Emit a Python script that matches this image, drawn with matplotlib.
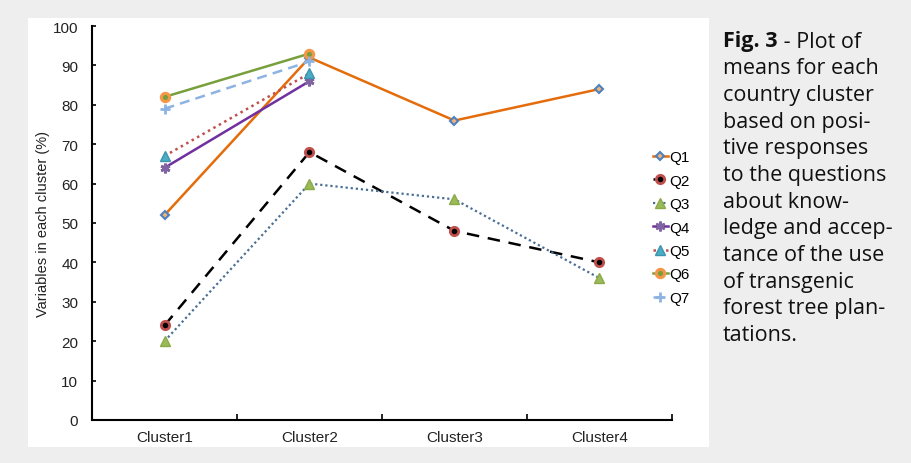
import numpy as np
import matplotlib
matplotlib.use("Agg")
from matplotlib import pyplot as plt
from matplotlib.patches import Rectangle

# data
clusters = ["Cluster1", "Cluster2", "Cluster3", "Cluster4"]
q1 = [52, 92, 76, 84]
q2 = [24, 68, 48, 40]
q3 = [20, 60, 56, 36]
q4 = [64, 86]
q5 = [67, 88]
q6 = [82, 93]
q7 = [79, 91]

caption_lines = [
    "means for each",
    "country cluster",
    "based on posi-",
    "tive responses",
    "to the questions",
    "about know-",
    "ledge and accep-",
    "tance of the use",
    "of transgenic",
    "forest tree plan-",
    "tations.",
]

plt.rcParams["font.family"] = ["Liberation Sans", "DejaVu Sans"]

fig = plt.figure(figsize=(9.12, 4.64), dpi=100)
fig.patch.set_facecolor("#eeeeee")
fig.patches.append(Rectangle((0.0307, 0.0345), 0.7467, 0.9245, transform=fig.transFigure,
                             facecolor="white", edgecolor="none", zorder=-5))

ax = fig.add_axes([0.1009, 0.0927, 0.6359, 0.8491])
ax.set_facecolor("none")
ax.set_zorder(2)

series = [
    ("Q1", q1, dict(color="#e46c0a", ls="-", lw=1.8, marker="D", ms=4.5,
                    mfc="#f2b27a", mec="#4f81bd", mew=1.5)),
    ("Q2", q2, dict(color="black", ls=(0, (5, 3.5)), lw=1.8, marker="o", ms=6,
                    mfc="black", mec="#c0504d", mew=2.0)),
    ("Q3", q3, dict(color="#4a6f94", ls=(0, (1, 1.3)), lw=1.6, marker="^", ms=6.5,
                    mfc="#9bbb59", mec="#8aaa4a", mew=1.0)),
    ("Q4", q4, dict(color="#7030a0", ls="-", lw=1.8, marker=(6, 2, 0), ms=7,
                    mfc="#8064a2", mec="#8064a2", mew=2.0)),
    ("Q5", q5, dict(color="#c0504d", ls=(0, (1, 1.5)), lw=1.8, marker="^", ms=6.5,
                    mfc="#4bacc6", mec="#3d94ae", mew=1.0)),
    ("Q6", q6, dict(color="#77a03d", ls="-", lw=1.8, marker="o", ms=6,
                    mfc="#77a03d", mec="#f79646", mew=2.2)),
    ("Q7", q7, dict(color="#8db3e2", ls=(0, (4, 2.5)), lw=1.8, marker="+", ms=7,
                    mfc="#8db3e2", mec="#8db3e2", mew=2.0)),
]

x = np.arange(len(clusters))
for name, vals, kw in series:
    ax.plot(x[:len(vals)], vals, label=name, **kw)

ax.set_xlim(-0.5, 3.5)
ax.set_ylim(0, 100)
ax.set_yticks(np.arange(0, 101, 10))
ax.set_xticks(x)
ax.set_xticklabels(clusters, fontsize=11)
ax.set_xticks(np.arange(-0.5, 3.6, 1), minor=True)
ax.tick_params(axis="x", which="major", length=0, pad=7, colors="#222222")
ax.tick_params(axis="x", which="minor", direction="in", length=4, width=1.2)
ax.tick_params(axis="y", direction="in", length=3, width=1.2, labelsize=11, pad=10,
               labelcolor="#222222")
for s in ["top", "right"]:
    ax.spines[s].set_visible(False)
for s in ["left", "bottom"]:
    ax.spines[s].set_linewidth(1.5)
ax.set_ylabel("Variables in each cluster (%)", fontsize=10.5, labelpad=2, color="#222222")

leg = ax.legend(loc="upper left", bbox_to_anchor=(0.967, 0.685), frameon=False,
                fontsize=11, handlelength=1.0, handletextpad=0.05,
                labelspacing=0.62, borderaxespad=0, borderpad=0)

# caption on the right
cap_font = ["Open Sans", "DejaVu Sans"]
cap_size = 15.5
cx = 723 / 912
top_y = 1 - 42 / 464
step = 26.7 / 464
t = fig.text(cx, top_y, "Fig. 3", fontsize=cap_size, fontweight="bold", family=cap_font,
             color="#111111", va="center", ha="left")
fig.canvas.draw()
bb = t.get_window_extent(renderer=fig.canvas.get_renderer())
fig.text(bb.x1 / fig.bbox.width, top_y, " - Plot of", fontsize=cap_size, family=cap_font,
         color="#111111", va="center", ha="left")
for i, line in enumerate(caption_lines):
    fig.text(cx, top_y - (i + 1) * step, line, fontsize=cap_size, family=cap_font,
             color="#111111", va="center", ha="left")

fig.savefig("out.png", dpi=100, facecolor=fig.get_facecolor())
